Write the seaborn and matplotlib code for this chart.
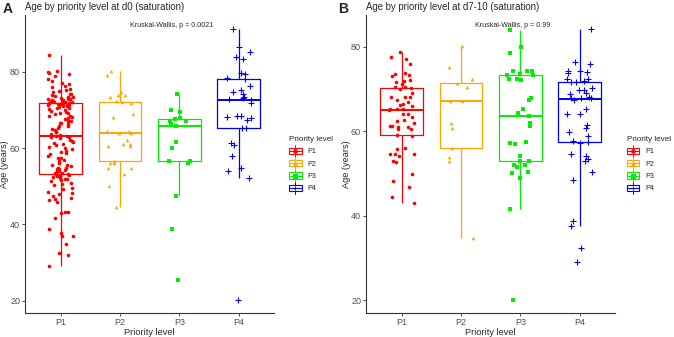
import numpy as np
import pandas as pd
import matplotlib
matplotlib.use("Agg")
import matplotlib.pyplot as plt
from matplotlib.lines import Line2D
from matplotlib.patches import Rectangle
from matplotlib.legend_handler import HandlerBase
import seaborn as sns

levels = ["P1", "P2", "P3", "P4"]
colors = ["#FF0000", "#FFA500", "#00EE00", "#0000FF"]
markers = ["o", "^", "s", "+"]

# age values, d0 panel
d0_p1 = [29.2, 31.9, 32.6, 34.9, 37.0, 37.0, 37.8, 38.9, 41.7, 43.0, 43.2, 43.2,
         45.8, 46.3, 46.6, 46.9, 47.4, 47.9, 48.1, 48.6, 49.2, 49.6, 50.2, 50.6,
         50.9, 51.3, 51.7, 51.8, 52.0, 52.2, 52.4, 52.6, 52.7, 52.8, 52.9, 53.0,
         53.1, 53.2,
         53.4, 53.5, 53.9, 54.0, 54.2, 54.4, 54.4, 54.7, 54.9, 55.3, 55.6, 55.7,
         56.2, 56.5, 56.9, 57.4, 57.5, 57.9, 58.4, 58.8, 59.1, 59.2, 59.8, 60.1,
         60.4, 60.8, 61.0, 61.3, 61.7, 61.9, 62.2, 62.6, 62.8, 63.0, 63.1, 63.2,
         63.3,
         63.5, 63.8, 64.1, 64.3, 64.8, 65.0, 65.4, 65.7, 65.9, 66.3, 66.5, 66.6,
         67.0, 67.2, 67.6, 67.8, 68.1, 68.3, 68.5, 68.9, 69.1, 69.3, 69.4, 69.8,
         70.0, 70.2, 70.5, 70.6, 70.8, 71.0, 71.1, 71.2, 71.3, 71.4, 71.5, 71.6,
         71.7,
         71.8, 71.8, 71.9, 72.0, 72.1, 72.1, 72.2, 72.3, 72.4, 72.5, 72.6, 72.8,
         72.9, 73.0, 73.2, 73.4, 73.5, 73.7, 73.9, 74.1, 74.3, 74.6, 74.9, 75.3,
         75.6, 76.0, 76.4, 76.9, 77.1, 77.5, 78.1, 79.0, 79.5, 79.8, 80.0, 80.1,
         84.4]
d0_p2 = [80.2, 79.1, 74.7, 73.9, 73.8, 73.3, 72.3, 72.0, 71.8, 68.9, 68.1, 64.5,
         64.4, 64.0, 63.9, 62.2, 61.2, 61.1, 60.6, 60.6, 56.7, 56.2, 56.0, 54.8,
         54.8, 53.3, 50.1, 44.5]
d0_p3 = [74.2, 70.0, 69.5, 67.9, 67.6, 67.2, 67.1, 66.2, 65.8, 61.7, 59.9, 56.6,
         56.2, 56.6, 47.5, 38.9, 25.3]
d0_p4 = [91.3, 86.6, 85.3, 84.0, 83.3, 79.7, 79.4, 78.3, 78.1, 76.3, 75.2, 74.7,
         74.1, 73.5, 73.1, 72.8, 72.5, 71.8, 68.3, 68.3, 68.1, 67.9, 67.4, 65.4,
         65.4, 61.3, 60.7, 58.0, 54.8, 54.1, 52.2, 20.3]

# d7-10 panel
d7_p1 = [78.8, 77.6, 77.1, 76.0, 73.7, 73.5, 73.4, 73.2, 72.1, 71.9, 71.8, 71.2,
         70.5, 70.4, 70.2, 70.1, 69.2, 68.2, 68.2, 68.1, 67.4, 67.0, 66.5, 66.3,
         65.9, 65.4, 65.3, 65.2, 65.1, 64.2, 64.0, 63.3, 62.7, 62.4, 62.0, 61.2,
         61.2, 61.1, 61.0, 60.6, 60.5, 59.2, 59.0, 56.0, 55.9, 54.7, 54.7, 54.6,
         54.2, 52.9, 52.8, 49.9, 48.3, 46.9, 44.5, 43.1]
d7_p2 = [80.1, 75.3, 72.3, 71.4, 70.4, 67.3, 67.3, 61.9, 60.9, 56.1, 54.0, 53.0,
         34.8]
d7_p3 = [84.1, 80.0, 78.6, 74.4, 74.3, 74.2, 73.6, 73.4, 73.3, 72.4, 72.3, 72.2,
         67.8, 67.4, 65.2, 64.4, 63.7, 62.1, 61.2, 57.5, 57.3, 57.0, 54.2, 53.1,
         53.1, 52.1, 52.0, 51.6, 50.5, 50.1, 48.9, 41.6, 20.2]
d7_p4 = [84.3, 76.5, 76.0, 74.3, 74.2, 74.0, 73.7, 72.4, 72.3, 72.0, 71.8, 71.6,
         70.3, 69.9, 69.8, 69.2, 68.8, 68.1, 68.0, 67.9, 67.8, 67.5, 65.2, 64.0,
         64.1, 61.4, 60.7, 59.9, 59.0, 57.7, 57.6, 57.3, 54.7, 54.1, 53.4, 53.1,
         50.3, 48.6, 38.9, 37.7, 32.5, 29.2]

sns.set_theme(style="ticks")
plt.rcParams['font.family'] = ['Liberation Sans', 'DejaVu Sans']
np.random.seed(7)


class BoxKey(HandlerBase):
    # ggplot-like boxplot key: box, median, whisker and the point shape
    def create_artists(self, legend, orig, xdescent, ydescent, width, height,
                       fontsize, trans):
        c = orig.get_color()
        x0, y0 = -xdescent, -ydescent
        cx, cy = x0 + width / 2, y0 + height / 2
        whisk = Line2D([cx, cx], [y0 - 0.25 * height, y0 + 1.25 * height],
                       color=c, lw=0.7)
        box = Rectangle((x0, y0 + 0.1 * height), width, 0.8 * height,
                        facecolor="white", edgecolor=c, lw=0.8)
        med = Line2D([x0, x0 + width], [cy, cy], color=c, lw=0.8)
        pt = Line2D([cx], [cy], color=c, marker=orig.get_marker(),
                    markersize=2.6, markeredgewidth=0.7, linestyle="None")
        arts = [whisk, box, med, pt]
        for a in arts:
            a.set_transform(trans)
        return arts


fig = plt.figure(figsize=(6.74, 3.37), dpi=100)
ax_a = fig.add_axes([0.037, 0.071, 0.370, 0.884])
ax_b = fig.add_axes([0.543, 0.071, 0.370, 0.884])


def panel(ax, groups, title, ptext, letter, letter_x, leg_x):
    df = pd.DataFrame({
        "level": np.repeat(levels, [len(g) for g in groups]),
        "age": np.concatenate(groups),
    })
    sns.boxplot(data=df, x="level", y="age", hue="level", order=levels,
                hue_order=levels, palette=colors, fill=False, showfliers=False,
                showcaps=False, width=0.72, linewidth=0.9,
                medianprops=dict(linewidth=1.4), legend=False, ax=ax)
    for lev, c, m in zip(levels, colors, markers):
        sub = df[df.level == lev]
        if m == "+":
            sns.stripplot(data=sub, x="level", y="age", order=levels, color=c,
                          marker=m, size=4, jitter=0.22, linewidth=0.8, ax=ax)
        else:
            sns.stripplot(data=sub, x="level", y="age", order=levels, color=c,
                          marker=m, size=2.6, jitter=0.22, linewidth=0, ax=ax)
    ax.set_xlim(-0.6, 3.6)
    ax.set_yticks([20, 40, 60, 80])
    sns.despine(ax=ax)
    for s in ["left", "bottom"]:
        ax.spines[s].set_color("#333333")
        ax.spines[s].set_linewidth(0.8)
    ax.tick_params(axis="both", length=2.5, width=0.6, color="#333333",
                   labelsize=6.5, labelcolor="#4D4D4D", pad=1)
    ax.set_xlabel("Priority level", fontsize=6.6)
    ax.set_ylabel("Age (years)", fontsize=6.6)
    ax.xaxis.set_label_coords(0.5, -0.05)
    ax.yaxis.set_label_coords(-0.062, 0.5)
    ax.set_title(title, loc="left", fontsize=6.9, pad=3.5)
    ax.text(0.59, 0.966, ptext, transform=ax.transAxes, ha="center",
            va="center", fontsize=5.1)
    fig.text(letter_x, 0.972, letter, fontsize=10, fontweight="bold",
             ha="left", va="center")

    keys = [Line2D([], [], color=c, marker=m) for c, m in zip(colors, markers)]
    fig.legend(keys, levels, title="Priority level",
               handler_map={Line2D: BoxKey()},
               loc="upper left", bbox_to_anchor=(leg_x, 0.605),
               frameon=False, fontsize=5.2, title_fontsize=5.9,
               handlelength=1.7, handleheight=1.3, handletextpad=0.8,
               labelspacing=0.55, alignment="left", borderaxespad=0)


panel(ax_a, [d0_p1, d0_p2, d0_p3, d0_p4],
      "Age by priority level at d0 (saturation)", "Kruskal-Wallis, p = 0.0021",
      "A", 0.004, 0.425)
panel(ax_b, [d7_p1, d7_p2, d7_p3, d7_p4],
      "Age by priority level at d7-10 (saturation)", "Kruskal-Wallis, p = 0.99",
      "B", 0.502, 0.926)

fig.savefig("out.png", dpi=100)
